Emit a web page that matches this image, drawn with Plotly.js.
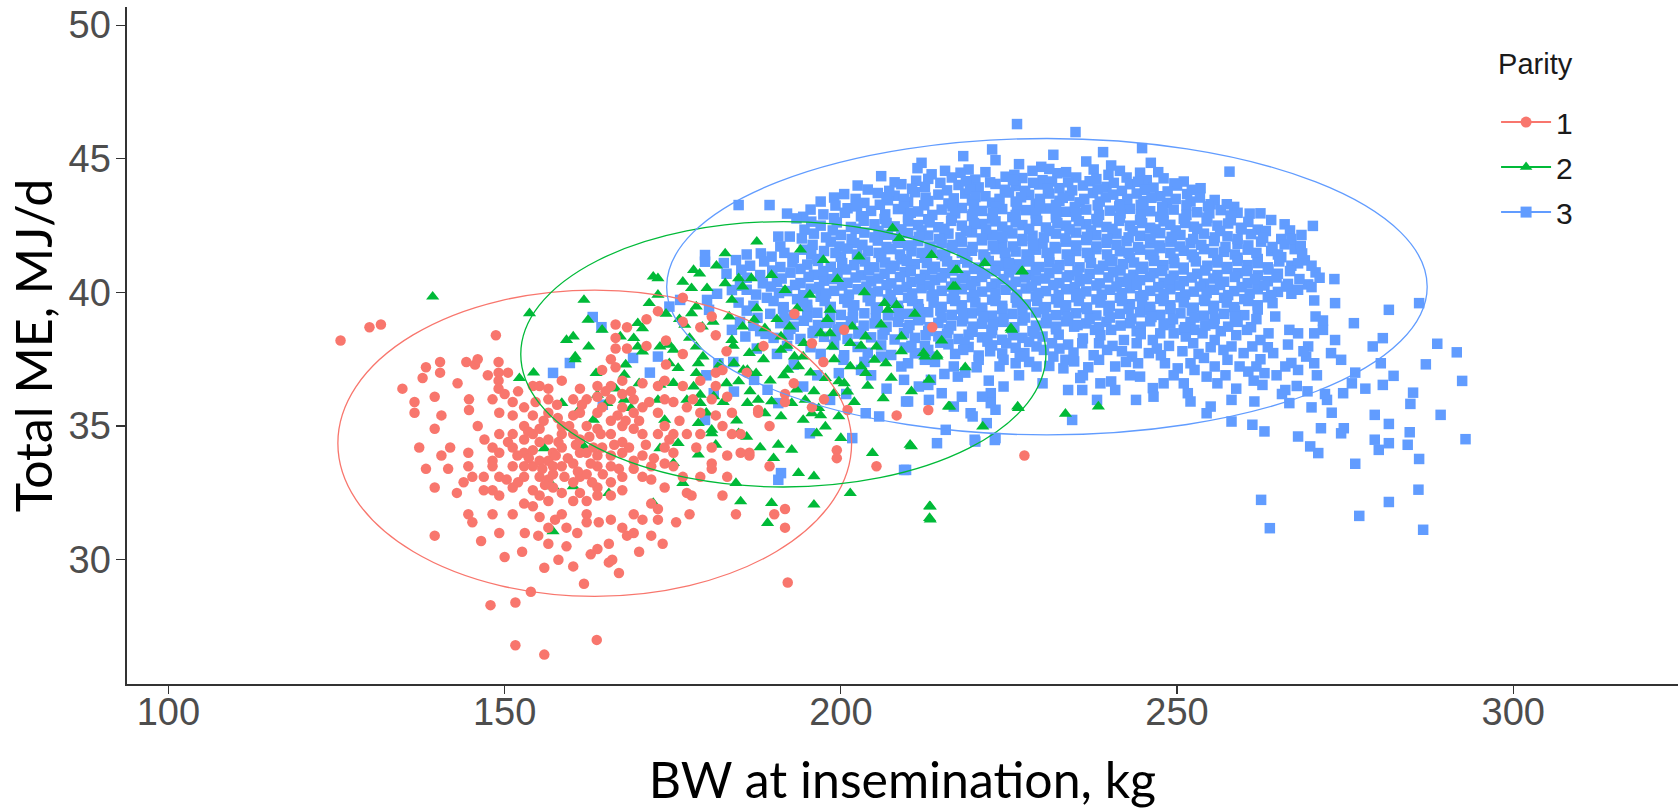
<!DOCTYPE html>
<html>
<head>
<meta charset="utf-8">
<script src="https://cdn.plot.ly/plotly-3.0.1.min.js"></script>
<style>
html,body{margin:0;padding:0;background:#fff;}
#chart{width:1678px;height:809px;}
</style>
</head>
<body>
<div id="chart"></div>
<script>
// ---------- DATA (BW at insemination kg, Total ME MJ/d) ----------
const parityNames = ["1", "2", "3"];
const parityColors = ["#F8766D", "#00BA38", "#619CFF"];
const paritySymbols = ["circle", "triangle-up", "square"];
const xTicks = [100, 150, 200, 250, 300];
const yTicks = [30, 35, 40, 45, 50];

const parity1 = [
[125.6,38.2],[129.9,38.7],[131.6,38.8],
[134.8,36.4],[136.6,35.9],[136.6,35.5],[137.8,36.8],[138.3,37.2],[139.6,36.1],[139.6,34.9],[140.4,37.4],[140.4,37.0],[137.3,34.2],[138.3,33.4],[139.6,32.7],[139.6,30.9],[140.6,35.4],[140.6,33.9],[141.9,34.2],[142.9,32.5],[141.6,33.4],[144.3,37.4],[144.7,36.0],[144.7,35.6],[145.6,37.3],[144.6,34.0],[144.6,33.5],[145.2,33.1],[143.9,32.9],[144.6,31.7],[145.2,31.4],[146.9,33.1],[146.9,32.6],
[148.2,36.0],[148.2,34.2],[148.2,33.7],[148.2,33.5],[148.2,32.6],[148.2,31.7],[149.1,37.4],[149.1,37.0],[149.1,36.7],[149.1,36.4],[149.2,35.5],[149.2,34.7],[149.2,34.0],[149.2,33.1],[149.2,32.4],[149.2,31.0],[150.0,30.1],[147.9,28.3],[151.6,28.4],
[151.2,35.9],[151.2,35.4],[151.2,34.7],[151.2,34.2],[151.2,33.5],[151.2,32.7],[151.2,31.7],[152.6,30.3],[152.9,35.7],[152.9,35.0],[152.9,34.5],[152.9,34.0],[152.9,33.5],[152.9,33.1],[152.9,32.1],
[154.2,36.5],[154.2,35.4],[154.2,34.7],[154.2,34.1],[154.2,33.5],[154.2,32.6],[154.2,32.0],[155.2,36.5],[155.2,34.9],[155.2,34.4],[155.2,33.7],[155.2,33.1],[155.2,32.4],[155.2,31.6],[155.9,29.7],[153.9,28.8],
[156.5,36.4],[156.5,36.0],[156.5,35.5],[156.5,34.5],[156.5,33.7],[156.5,33.0],[156.5,32.2],[156.5,31.2],[156.5,30.6],[157.2,34.0],[157.2,33.5],[157.2,33.2],[157.2,32.7],
[158.5,36.7],[158.5,35.0],[158.5,34.7],[158.5,34.2],[158.5,33.5],[158.5,32.5],[158.5,31.7],[159.2,31.2],[159.2,30.5],[160.2,36.0],[160.2,35.4],[160.2,34.7],[160.2,33.6],[160.2,32.9],[160.2,32.2],[160.2,29.75],
[161.2,36.4],[161.2,35.5],[161.2,34.5],[161.2,34.0],[161.2,33.1],[161.2,32.5],[161.8,29.1],[162.2,36.0],[162.2,35.0],[162.2,34.0],[162.2,33.2],[162.2,32.2],[162.2,31.7],[162.2,31.4],
[163.8,36.5],[163.8,36.1],[163.8,35.5],[163.8,34.9],[163.8,33.9],[163.8,33.5],[163.8,32.7],[163.8,32.4],[163.8,30.4],[164.5,37.1],[164.5,35.7],[164.5,34.2],[165.5,30.6],[165.5,29.9],
[165.8,37.5],[165.8,36.5],[165.8,36.0],[165.8,35.2],[165.8,34.7],[165.8,33.9],[165.8,33.5],[165.8,32.9],[165.8,32.4],[165.8,31.5],[166.5,38.8],[166.5,38.3],[166.5,37.9],[166.5,37.2],
[167.5,36.7],[167.5,36.2],[167.5,35.7],[167.5,35.0],[167.5,34.4],[167.5,34.0],[167.5,33.1],[167.5,32.6],[167.5,31.2],[168.2,38.7],[168.2,37.9],[168.2,30.9],
[169.2,36.0],[169.2,35.5],[169.2,34.9],[169.2,33.7],[169.2,33.4],[169.2,31.7],[169.2,31.0],[170.5,36.6],[170.5,35.7],[170.5,34.7],[170.5,33.9],[170.5,33.1],[170.5,31.5],[171.1,39.0],[171.1,38.0],
[171.8,33.5],[171.8,33.0],[171.8,32.1],[171.8,30.9],[172.8,39.3],[172.8,36.5],[172.8,35.5],[172.8,34.7],[172.8,31.9],[172.8,31.5],[173.8,36.7],[173.8,36.0],[173.8,35.0],[173.8,34.2],[173.8,33.6],[173.8,32.7],
[175.1,35.9],[175.1,34.7],[175.1,34.0],[175.1,33.5],[176.5,39.8],[176.5,37.7],[176.5,36.5],[176.5,33.1],[177.1,35.7],[177.1,34.7],[177.1,32.5],[177.5,31.7],[177.8,32.4],
[179.1,38.7],[179.1,36.7],[179.1,35.5],[179.1,34.7],[179.1,33.1],[180.8,39.1],[180.8,36.0],[180.8,34.2],[180.8,33.6],[180.8,33.4],[181.4,38.4],[181.4,37.0],[181.4,36.5],[181.4,35.4],
[182.4,37.1],[182.4,35.0],[182.4,32.4],[183.1,36.1],[183.1,33.9],[183.1,33.1],[183.8,35.5],[183.8,34.7],[184.4,31.7],[185.1,34.7],[185.1,34.0],[186.4,34.0],[186.4,33.9],[187.7,35.6],[187.7,35.5],
[189.4,33.5],[189.4,35.0],[190.1,31.7],[191.7,36.2],[191.7,35.9],[191.7,31.9],[191.7,31.2],[192.1,29.15],[193.1,39.2],[195.7,35.7],[195.7,38.1],[197.4,37.4],[199.4,34.1],[199.4,33.8],[201.0,35.6],[205.3,33.5],[208.3,35.4],[213.6,38.7],[213.0,35.6],[227.3,33.9],
[151.6,26.8],[155.9,26.45],[163.7,27.0],
[150.5,34.4],[150.3,33.0],[151.9,33.9],[152.0,32.9],[153.5,34.8],[153.6,33.8],[154.6,35.9],[155.8,35.2],[155.6,33.4],[156.0,32.8],[157.8,35.8],[157.9,35.3],[158.0,34.4],[157.6,33.9],[158.9,33.1],[159.4,33.8],[159.6,35.0],[160.6,34.3],[160.9,33.3],[161.5,35.8],[162.6,34.6],[162.8,33.6],[163.2,34.2],[163.0,32.9],[164.3,34.7],[164.6,33.2],[165.0,36.3],[166.3,34.3],[166.8,35.4],[167.0,33.4],[168.0,35.2],[168.5,34.2],[168.8,36.3],[170.0,35.2],[171.0,34.3],[171.5,35.9],[172.2,33.8],[174.5,34.5],[174.0,37.3],[176.0,35.2],[178.0,36.0],[178.5,34.2],
[143.0,36.6],[146.0,35.0],[147.0,34.5],[147.5,36.9],[146.5,30.7],[150.0,36.2],[150.5,37.0],[152.0,36.3],[153.0,31.0],[155.0,30.9],[157.5,31.5],[158.0,30.0],[160.8,31.0],[162.8,30.2],[164.0,31.4],[166.0,30.0],[167.0,29.5],[170.0,30.3],[173.5,30.6],[175.5,31.4],[146.0,37.5],[148.7,38.4],
[174.0,38.2],[176.5,38.9],[183.0,37.8],[186.0,37.0],[188.5,38.0],[193.0,36.6],[197.5,36.0],[200.5,38.6]
];

const parity2 = [
[139.3,39.84],[153.7,39.22],[161.8,39.72],[162.4,38.97],[160.2,38.35],[159.2,38.22],[162.5,37.97],[160.5,37.6],[160.5,37.5],[152.2,36.79],[154.3,37.0],[163.6,36.98],[163.8,36.17],[158.5,35.86],[160.9,35.55],[163.2,35.23],[165.2,35.86],[167.8,35.98],[168.8,35.67],[167.8,36.92],
[155.9,34.17],[161.8,34.24],[157.2,32.74],[160.2,32.74],[165.5,32.49],[172.1,32.12],[157.2,31.06],[172.8,40.53],[172.8,39.91],[169.8,38.85],[170.5,38.66],[167.2,38.35],[169.2,38.29],[169.8,37.97],[170.5,37.79],
[173.1,37.97],[174.5,38.04],[175.1,37.85],[174.5,37.35],[175.8,37.17],[173.1,36.54],[175.1,36.61],[172.8,35.98],[173.8,35.23],[173.1,34.17],[175.8,34.36],[175.1,33.61],[176.5,32.87],
[178.1,40.84],[177.8,40.16],[180.1,40.16],[178.5,39.47],[177.8,39.22],[176.8,38.79],[179.4,38.72],[178.5,37.97],[178.8,37.35],[178.5,36.98],[178.1,36.48],[179.1,36.17],[181.1,36.11],[179.1,35.86],[177.1,35.98],[178.8,35.11],[180.8,34.86],[180.8,34.73],[181.4,34.3],[178.8,33.93],
[182.8,41.46],[182.8,40.34],[184.8,40.53],[183.8,39.72],[185.4,40.22],[183.4,39.1],[183.8,38.22],[185.4,38.72],[187.1,38.97],[186.7,40.53],[189.7,40.65],[188.7,38.66],[186.4,37.73],[187.7,37.91],[184.1,37.35],[186.1,37.1],[187.4,36.98],[184.8,36.67],[186.1,35.86],[187.7,35.98],[184.8,34.73],[184.4,32.87],[185.1,32.18],
[189.7,35.92],[188.7,35.48],[191.1,35.36],[190.7,34.3],[192.7,34.11],[191.1,38.35],[192.4,38.72],[191.1,37.85],[193.1,37.6],[194.4,37.6],[193.7,37.23],[192.1,37.1],[193.4,36.36],[194.7,35.98],[192.7,35.86],[194.4,35.23],[195.7,35.48],[196.7,35.67],[197.7,34.98],[196.4,34.73],[200.0,34.55],[199.7,35.36],
[193.7,33.24],[196.0,33.12],[189.7,32.12],[189.1,31.37],[196.0,32.06],[201.4,32.49],[204.7,33.99],[210.3,34.3],[213.3,31.99],[213.3,31.5],
[197.0,38.47],[198.4,38.47],[198.7,37.97],[201.4,38.1],[201.4,37.23],[203.0,37.23],[197.7,36.79],[199.7,36.67],[199.0,36.23],[201.0,36.29],[206.3,36.04],[203.7,36.98],[205.0,37.48],[206.7,37.35],[201.7,38.72],[203.7,38.35],[205.3,37.97],[209.0,38.35],[212.3,37.73],[214.3,37.66],[216.0,35.73],[226.3,35.73],[225.3,38.66],
[208.7,42.03],[202.7,41.34],[197.4,41.21],[191.7,40.09],[195.4,39.91],[198.4,39.35],[208.3,39.53],[207.0,39.35],[217.0,40.22],[217.3,40.84],[226.9,40.78],[172.1,40.59],
[238.3,35.73],[233.4,35.46],[226.4,35.67],[221.1,34.98],[210.5,34.24],[213.2,32.0],[213.2,31.56],[217.1,40.84],[216.7,40.22],[225.4,38.6],[227.0,40.8],[221.4,41.1],[214.3,37.6],[212.5,37.6],[216.2,35.73],[213.1,36.73],[207.7,42.4],
[176.0,39.0],[177.5,38.3],[179.5,37.6],[181.0,38.9],[182.0,37.3],[183.0,36.6],[184.0,38.0],[185.5,37.1],[186.5,36.3],[187.5,39.4],[188.5,37.5],[189.5,36.7],[190.5,39.0],[191.5,36.9],[192.0,38.0],[193.5,39.4],[194.5,38.1],[195.5,37.0],[196.0,36.3],[197.0,35.4],[198.0,39.0],[199.0,37.5],[200.5,36.6],[202.0,35.9],[203.0,38.0],[204.0,36.5],[206.0,38.8],[207.5,36.8],[209.0,37.8],[210.5,36.3],
[180.0,35.5],[182.5,35.9],[184.5,35.2],[186.0,34.6],[188.0,34.2],[190.0,33.8],[170.0,36.6],[168.0,37.3],[166.5,36.4],[164.5,38.6],[171.5,39.6],[174.0,39.2],[176.5,40.4],[179.0,40.7],[181.5,41.0],[187.5,41.9],[194.0,41.6],[199.5,40.5],[203.5,40.0],[206.5,39.6],[211.0,39.2],[215.0,38.2],[218.5,37.2],[213.5,41.4]
];

const parity3 = [
[226.2,46.3],[234.9,46.0],[244.8,45.4],[222.5,45.35],[231.6,45.15],[239.0,45.25],[218.2,45.1],
[212.0,44.85],[223.0,44.95],[226.5,44.8],[236.5,44.9],[240.2,44.75],[246.1,44.85],[229.8,44.7],
[211.4,44.65],[215.5,44.55],[219.0,44.6],[221.5,44.5],[228.5,44.55],[231.0,44.62],[233.5,44.5],[241.5,44.55],[244.5,44.48],[257.8,44.52],[237.6,44.6],
[206.0,44.35],[213.0,44.25],[216.5,44.3],[220.0,44.22],[224.5,44.33],[227.0,44.28],[230.0,44.2],[235.0,44.3],[238.0,44.24],[242.5,44.3],[245.5,44.2],[248.0,44.27],[251.0,44.15],
[202.5,44.0],[209.0,44.05],[212.5,43.95],[217.5,44.02],[220.5,43.93],[223.0,44.06],[226.0,43.98],[229.5,44.04],[232.5,43.9],[236.0,44.0],[239.5,43.95],[243.0,44.05],[246.5,43.92],[250.0,44.0],[253.5,43.9],
[200.5,43.68],[205.5,43.72],[208.0,43.62],[211.0,43.75],[214.5,43.66],[218.5,43.7],[221.5,43.6],[225.0,43.74],[228.0,43.65],[231.0,43.7],[234.0,43.62],[237.5,43.72],[240.5,43.66],[244.0,43.7],[247.5,43.6],[251.5,43.68],[255.6,43.46],
[197.0,43.4],[203.5,43.35],[207.0,43.45],[210.0,43.38],[213.0,43.42],[216.0,43.33],[219.5,43.44],[222.5,43.36],[226.0,43.4],[229.0,43.32],[232.5,43.43],[235.5,43.37],[238.5,43.4],[241.5,43.3],[245.0,43.42],[248.5,43.35],[252.0,43.4],[255.0,43.3],[258.5,43.2],
[189.4,43.27],[195.5,43.1],[201.0,43.15],[204.5,43.05],[208.5,43.12],[211.5,43.03],[215.0,43.1],[218.0,43.16],[221.0,43.05],[224.0,43.12],[227.5,43.08],[230.5,43.14],[233.5,43.02],[236.5,43.1],[240.0,43.06],[243.0,43.13],[246.0,43.04],[249.5,43.1],[253.0,43.0],[256.5,43.08],[259.0,42.98],
[184.8,43.27],[194.4,42.83],[199.0,42.78],[203.0,42.85],[206.5,42.75],[210.0,42.82],[213.0,42.74],[216.5,42.8],[219.5,42.86],[222.5,42.76],[225.5,42.82],[229.0,42.73],[232.0,42.8],[235.0,42.84],[238.0,42.75],[241.5,42.8],[244.5,42.72],[247.5,42.83],[251.0,42.76],[254.5,42.8],[258.0,42.7],[262.4,42.96],
[193.4,42.77],[197.0,42.5],[201.5,42.45],[205.0,42.55],[208.0,42.47],[211.5,42.52],[214.5,42.44],[218.0,42.5],[221.0,42.56],[224.0,42.46],[227.0,42.52],[230.5,42.43],[233.5,42.5],[236.5,42.55],[239.5,42.45],[243.0,42.5],[246.0,42.42],[249.0,42.53],[252.5,42.46],[256.0,42.5],[259.5,42.42],[264.0,42.71],[270.2,42.49],[262.0,42.35],
[190.7,42.09],[192.4,42.09],[196.0,42.2],[200.0,42.15],[203.5,42.24],[207.0,42.16],[210.0,42.22],[213.0,42.13],[216.0,42.2],[219.5,42.25],[222.5,42.15],[225.5,42.21],[228.5,42.12],[232.0,42.2],[235.0,42.24],[238.0,42.14],[241.0,42.2],[244.5,42.12],[247.5,42.22],[250.5,42.15],[254.0,42.2],[257.5,42.1],[261.0,42.18],[268.5,42.15],[265.5,42.0],
[198.5,41.9],[202.0,41.85],[205.5,41.94],[208.5,41.86],[211.5,41.92],[215.0,41.84],[218.0,41.9],[221.0,41.95],[224.0,41.85],[227.0,41.92],[230.0,41.83],[233.5,41.9],[236.5,41.96],[239.5,41.86],[242.5,41.92],[246.0,41.84],[249.0,41.9],[252.0,41.85],[255.5,41.92],[259.0,41.82],[262.5,41.9],[266.0,41.8],
[188.1,41.46],[194.5,41.6],[197.5,41.55],[201.0,41.64],[204.0,41.56],[207.5,41.62],[210.5,41.54],[213.5,41.6],[216.5,41.66],[219.5,41.56],[223.0,41.62],[226.0,41.53],[229.0,41.6],[232.0,41.65],[235.0,41.55],[238.0,41.62],[241.5,41.54],[244.5,41.6],[247.5,41.66],[251.0,41.56],[254.0,41.62],[257.0,41.52],[260.5,41.6],[264.0,41.55],[267.5,41.62],
[179.8,41.4],[184.4,41.21],[189.7,41.34],[193.0,41.3],[196.5,41.25],[200.0,41.34],[203.0,41.26],[206.0,41.32],[209.0,41.24],[212.5,41.3],[215.5,41.36],[218.5,41.26],[221.5,41.32],[224.5,41.23],[228.0,41.3],[231.0,41.35],[234.0,41.25],[237.0,41.32],[240.0,41.24],[243.0,41.3],[246.5,41.36],[249.5,41.26],[252.5,41.32],[256.0,41.22],[259.0,41.3],[262.0,41.25],[265.5,41.32],[269.0,41.2],
[179.8,41.15],[186.5,41.0],[191.0,40.95],[195.0,41.04],[198.5,40.96],[202.0,41.02],[205.0,40.94],[208.0,41.0],[211.0,41.06],[214.0,40.96],[217.0,41.02],[220.5,40.93],[223.5,41.0],[226.5,41.05],[229.5,40.95],[232.5,41.02],[235.5,40.94],[239.0,41.0],[242.0,41.06],[245.0,40.96],[248.0,41.02],[251.0,40.93],[254.5,41.0],[257.5,40.95],[260.5,41.02],[263.5,40.94],[267.0,41.0],[268.0,41.09],
[183.0,40.7],[188.0,40.65],[192.5,40.74],[196.0,40.66],[199.5,40.72],[203.0,40.64],[206.5,40.7],[209.5,40.76],[212.5,40.66],[215.5,40.72],[218.5,40.63],[221.5,40.7],[225.0,40.75],[228.0,40.65],[231.0,40.72],[234.0,40.64],[237.0,40.7],[240.5,40.76],[243.5,40.66],[246.5,40.72],[249.5,40.63],[253.0,40.7],[256.0,40.65],[259.0,40.72],[262.0,40.64],[265.0,40.7],[273.4,40.5],
[188.4,40.34],[190.5,40.4],[194.0,40.35],[197.5,40.44],[201.0,40.36],[204.5,40.42],[207.5,40.34],[210.5,40.4],[214.0,40.46],[217.0,40.36],[220.0,40.42],[223.0,40.33],[226.0,40.4],[229.0,40.45],[232.5,40.35],[235.5,40.42],[238.5,40.34],[241.5,40.4],[244.5,40.46],[248.0,40.36],[251.0,40.42],[254.0,40.33],[257.0,40.4],[260.5,40.35],[263.5,40.42],[266.5,40.32],
[183.8,40.09],[186.0,40.1],[192.0,40.05],[195.5,40.14],[199.0,40.06],[202.5,40.12],[205.5,40.04],[208.5,40.1],[212.0,40.16],[215.0,40.06],[218.0,40.12],[221.0,40.03],[224.5,40.1],[227.5,40.15],[230.5,40.05],[233.5,40.12],[236.5,40.04],[240.0,40.1],[243.0,40.16],[246.0,40.06],[249.0,40.12],[252.5,40.03],[255.5,40.1],[258.5,40.05],[262.0,40.12],[265.0,40.02],[268.0,40.1],
[176.1,39.72],[180.1,39.72],[189.0,39.8],[193.5,39.75],[197.0,39.84],[200.5,39.76],[204.0,39.82],[207.0,39.74],[210.0,39.8],[213.5,39.86],[216.5,39.76],[219.5,39.82],[222.5,39.73],[226.0,39.8],[229.0,39.85],[232.0,39.75],[235.0,39.82],[238.0,39.74],[241.5,39.8],[244.5,39.86],[247.5,39.76],[250.5,39.82],[254.0,39.73],[257.0,39.8],[260.0,39.75],[263.5,39.82],
[174.5,39.47],[187.0,39.5],[191.5,39.45],[195.0,39.54],[198.5,39.46],[202.0,39.52],[205.5,39.44],[208.5,39.5],[211.5,39.56],[215.0,39.46],[218.0,39.52],[221.0,39.43],[224.0,39.5],[227.5,39.55],[230.5,39.45],[233.5,39.52],[236.5,39.44],[240.0,39.5],[243.0,39.56],[246.0,39.46],[249.0,39.52],[252.5,39.43],[255.5,39.5],[258.5,39.45],[262.0,39.52],[273.5,39.6],
[163.1,39.08],[180.4,39.35],[189.5,39.2],[193.0,39.15],[196.5,39.24],[200.0,39.16],[203.5,39.22],[207.0,39.14],[210.0,39.2],[213.0,39.26],[216.5,39.16],[219.5,39.22],[222.5,39.13],[225.5,39.2],[229.0,39.25],[232.0,39.15],[235.0,39.22],[238.0,39.14],[241.5,39.2],[244.5,39.26],[247.5,39.16],[250.5,39.22],[254.0,39.13],[257.0,39.2],[260.0,39.15],[264.6,39.1],[281.5,39.35],
[164.4,38.7],[185.0,38.9],[191.0,38.85],[194.5,38.94],[198.0,38.86],[201.5,38.92],[205.0,38.84],[208.5,38.9],[211.5,38.96],[214.5,38.86],[218.0,38.92],[221.0,38.83],[224.0,38.9],[227.0,38.95],[230.5,38.85],[233.5,38.92],[236.5,38.84],[239.5,38.9],[243.0,38.85],[246.0,38.92],[249.0,38.84],[252.0,38.9],[255.5,38.82],[259.0,38.9],[276.3,38.85],
[183.8,38.6],[188.0,38.55],[192.5,38.64],[196.0,38.56],[199.5,38.62],[203.0,38.54],[206.5,38.6],[210.0,38.66],[213.0,38.56],[216.0,38.62],[219.5,38.53],[222.5,38.6],[225.5,38.65],[228.5,38.55],[232.0,38.62],[234.7,38.72],[237.8,38.6],[240.2,38.6],[244.0,38.55],[247.5,38.47],[251.0,38.6],[252.6,38.6],[256.5,38.55],[266.7,38.6],[271.7,38.6],[286.0,39.6],
[185.8,38.35],[190.0,38.3],[194.0,38.26],[197.5,38.34],[201.0,38.26],[204.5,38.32],[208.0,38.24],[211.0,38.3],[214.5,38.36],[217.5,38.26],[221.0,38.32],[224.0,38.23],[227.0,38.3],[230.0,38.35],[236.0,38.28],[242.1,38.22],[246.4,38.22],[249.5,38.47],[251.3,38.35],[253.8,38.47],[255.6,38.22],[262.4,38.22],[263.6,38.47],[268.0,38.47],[270.4,38.47],[273.5,38.22],[280.6,38.29],
[192.0,38.0],[195.5,37.95],[199.0,38.04],[202.5,37.96],[206.0,38.02],[209.5,37.94],[212.5,38.0],[216.0,38.06],[219.0,37.96],[222.5,38.02],[226.0,37.93],[229.1,37.98],[235.9,38.1],[238.4,38.1],[258.1,37.98],[261.2,37.98],[269.5,37.98],[279.1,37.98],[288.7,38.08],[256.9,37.85],
[169.1,37.55],[172.8,37.6],[197.0,37.7],[200.5,37.65],[204.0,37.74],[207.5,37.66],[211.0,37.72],[213.6,37.6],[217.0,37.7],[220.5,37.64],[224.0,37.72],[227.3,37.73],[231.6,37.6],[239.6,37.85],[243.3,37.6],[245.8,37.73],[259.9,37.73],[264.3,37.73],[272.9,37.73],[291.6,37.76],
[159.7,37.36],[181.8,37.35],[200.4,37.48],[203.5,37.4],[209.0,37.23],[212.5,37.48],[216.8,37.23],[220.5,37.48],[224.2,37.48],[226.0,37.35],[233.4,37.48],[234.7,37.42],[238.4,37.48],[244.2,37.35],[248.2,37.35],[252.0,37.35],[255.6,37.23],[257.5,37.48],[261.8,37.23],[266.1,37.23],[267.0,37.36],[270.4,37.35],[274.4,37.48],[280.3,37.35],[287.0,37.31],
[157.2,36.99],[171.6,37.0],[199.7,36.98],[210.0,37.35],[223.6,37.23],[229.1,37.23],[233.1,37.16],[240.8,37.23],[250.1,37.16],[252.6,37.1],[254.4,36.85],[259.3,37.23],[260.6,37.04],[263.0,36.98],[268.0,37.1],[269.2,37.6],
[187.1,36.73],[209.4,36.73],[213.4,36.73],[217.4,36.85],[240.2,36.67],[244.5,36.85],[282.2,36.88],
[181.1,36.23],[194.4,36.48],[189.1,36.36],[211.6,36.48],[213.0,36.54],[224.2,36.48],[246.4,36.42],[262.7,36.54],[276.0,36.6],[280.6,36.54],[292.4,36.69],
[184.1,36.29],[215.0,36.23],[218.0,36.1],[222.3,36.23],[233.8,36.35],[235.9,36.35],[240.8,36.35],[251.6,36.23],[266.1,36.35],[274.7,36.23],[285.1,36.25],
[190.7,35.86],[198.4,35.98],[209.7,35.92],[213.1,35.98],[210.0,35.92],[222.3,35.86],[221.0,36.1],[238.1,35.98],[243.9,35.98],[252.0,35.92],[258.1,35.98],[261.5,35.92],[266.7,35.86],[272.3,35.98],[284.7,35.83],
[164.6,35.8],[216.8,35.73],[223.0,35.61],[255.0,35.73],[270.0,35.7],[273.0,35.5],
[203.7,35.48],[205.7,35.36],[219.3,35.48],[219.6,35.36],[254.4,35.48],[234.4,35.23],[279.4,35.42],[289.2,35.42],
[179.8,35.23],[221.7,35.11],[258.1,35.17],[261.2,35.05],
[263.0,34.8],[281.5,35.08],[271.4,34.92],[274.8,34.92],
[215.6,34.86],[195.4,34.73],[284.6,34.77],
[201.7,34.55],[268.0,34.61],[274.4,34.73],[223.0,34.55],
[214.3,34.36],[219.9,34.49],[220.0,34.42],[222.9,34.48],[279.4,34.49],[281.5,34.36],[292.9,34.51],[284.3,34.3],
[269.8,34.24],[280.0,34.11],[271.0,33.99],[286.0,33.77],[276.5,33.59],[209.4,33.36],[209.7,33.36],[191.1,33.24],[190.7,32.99],[285.9,32.62],[262.5,32.24],[281.5,32.16],[277.1,31.64],[263.8,31.18],[286.6,31.12],
[210.5,38.0],[214.0,37.4],[218.5,37.0],[222.0,36.7],[226.5,36.9],[230.0,36.6],[232.5,37.9],[236.8,37.2],[241.8,37.8],[247.0,37.9],[249.5,36.9],[253.2,37.7],[256.0,36.6],[258.8,36.4],[264.8,36.9],[267.8,36.5],[270.8,36.9],[272.0,36.2],[276.5,37.0],[278.0,36.4],[246.5,36.1],[236.0,36.9],[228.0,37.4],[204.5,36.9],[206.8,36.4],[200.8,36.2],[196.5,36.9],[193.0,37.3],[190.5,37.7],[187.5,37.9],[184.0,37.4],[180.0,36.9],
[270.4,39.7],[270.6,39.1],[271.7,38.95],[269.5,40.3],
[213.5,44.42],[217.8,44.48],[225.8,44.4],[232.2,44.46],[239.8,44.4],[247.2,44.5],
[208.0,44.12],[211.2,44.18],[214.8,44.1],[218.6,44.16],[222.2,44.12],[225.6,44.2],[228.6,44.1],[231.4,44.15],[233.8,44.12],[237.0,44.16],[240.6,44.1],[244.2,44.14],[249.6,44.08],
[204.0,43.85],[207.2,43.8],[210.6,43.88],[215.8,43.82],[219.2,43.86],[224.4,43.84],[227.4,43.8],[230.8,43.88],[234.4,43.82],[238.2,43.86],[241.8,43.8],[245.2,43.84],[248.6,43.78],[252.2,43.84],
[199.0,43.55],[202.2,43.5],[206.8,43.56],[209.4,43.5],[212.6,43.55],[216.8,43.52],[220.0,43.57],[223.6,43.5],[226.8,43.56],[229.6,43.5],[233.0,43.54],[236.2,43.5],[239.4,43.56],[242.6,43.5],[246.2,43.54],[249.8,43.5],[253.4,43.55],
[199.2,43.25],[202.4,43.22],[205.8,43.28],[209.4,43.2],[212.4,43.26],[216.6,43.22],[219.8,43.28],[223.0,43.2],[226.2,43.26],[229.6,43.22],[232.0,43.28],[234.8,43.2],[238.2,43.26],[241.4,43.22],[244.6,43.28],[247.8,43.2],[251.4,43.26],[254.6,43.22],[257.4,43.3],
[192.0,42.95],[197.4,42.92],[200.6,42.98],[206.6,42.92],[210.4,42.98],[213.6,42.9],[217.0,42.96],[219.6,42.92],[222.6,42.98],[226.0,42.9],[229.0,42.96],[232.0,42.92],[235.0,42.98],[238.4,42.9],[241.6,42.96],[244.6,42.9],[248.0,42.96],[251.4,42.9],[254.8,42.96],[258.0,42.88],[260.8,42.95],
[195.6,42.65],[199.4,42.62],[203.4,42.68],[206.8,42.6],[210.0,42.66],[213.2,42.62],[216.4,42.68],[219.8,42.6],[223.0,42.66],[226.0,42.62],[229.2,42.68],[232.2,42.6],[235.4,42.66],[238.2,42.62],[241.4,42.68],[244.8,42.6],[248.0,42.66],[251.2,42.6],[254.4,42.66],[257.6,42.58],[260.6,42.64],[266.0,42.55],
[194.6,42.35],[198.8,42.32],[202.2,42.38],[205.6,42.3],[209.0,42.36],[212.0,42.32],[215.4,42.38],[218.6,42.3],[221.6,42.36],[224.8,42.32],[228.0,42.38],[231.0,42.3],[234.0,42.36],[237.2,42.32],[240.4,42.38],[243.4,42.3],[246.8,42.36],[249.8,42.32],[253.0,42.38],[256.4,42.3],[259.6,42.36],[263.2,42.3],[266.8,42.32],
[194.2,42.02],[197.8,42.06],[201.6,42.0],[205.0,42.06],[208.4,42.02],[211.6,42.08],[214.6,42.0],[217.8,42.06],[221.0,42.02],[224.0,42.08],[227.0,42.0],[230.2,42.06],[233.4,42.02],[236.6,42.08],[239.6,42.0],[242.8,42.06],[246.0,42.02],[249.2,42.08],[252.4,42.0],[255.6,42.06],[259.0,42.0],[262.8,42.04],[267.0,42.0],
[191.0,41.72],[195.8,41.78],[199.8,41.72],[203.2,41.78],[206.8,41.7],[210.0,41.76],[213.2,41.72],[216.6,41.78],[219.6,41.7],[222.6,41.76],[225.6,41.72],[228.6,41.78],[231.8,41.7],[235.0,41.76],[238.0,41.72],[241.0,41.78],[244.2,41.7],[247.4,41.76],[250.4,41.72],[253.6,41.78],[257.2,41.7],[260.6,41.76],[264.2,41.7],[268.4,41.74],
[186.0,41.42],[191.6,41.48],[195.6,41.42],[199.2,41.48],[202.4,41.42],[205.6,41.48],[208.8,41.42],[212.0,41.48],[215.0,41.42],[218.0,41.48],[221.2,41.42],[224.4,41.48],[227.6,41.42],[230.6,41.48],[233.6,41.42],[236.6,41.48],[239.6,41.42],[242.8,41.48],[246.0,41.42],[249.0,41.48],[252.2,41.42],[255.4,41.48],[258.6,41.42],[261.8,41.48],[265.0,41.42],[268.6,41.46],
[182.6,41.1],[188.6,41.16],[192.8,41.12],[196.6,41.18],[200.2,41.1],[203.6,41.16],[206.6,41.12],[209.8,41.18],[212.8,41.1],[215.8,41.16],[218.8,41.12],[222.0,41.18],[225.0,41.1],[228.0,41.16],[231.0,41.12],[234.0,41.18],[237.2,41.1],[240.4,41.16],[243.6,41.12],[246.6,41.18],[249.6,41.1],[252.8,41.16],[256.0,41.12],[259.0,41.18],[262.0,41.1],[265.2,41.16],[270.0,41.0],
[185.2,40.85],[189.8,40.82],[194.0,40.88],[197.4,40.8],[200.8,40.86],[204.2,40.82],[207.4,40.88],[210.4,40.8],[213.6,40.86],[216.6,40.82],[219.8,40.88],[223.0,40.8],[226.0,40.86],[229.0,40.82],[232.2,40.88],[235.2,40.8],[238.4,40.86],[241.6,40.82],[244.6,40.88],[247.8,40.8],[251.0,40.86],[254.2,40.82],[257.4,40.88],[260.4,40.8],[263.6,40.86],[266.8,40.8],[270.6,40.75],
[186.0,40.55],[191.2,40.52],[195.2,40.58],[198.8,40.5],[202.2,40.56],[205.6,40.52],[208.8,40.58],[211.8,40.5],[215.0,40.56],[218.0,40.52],[221.0,40.58],[224.2,40.5],[227.4,40.56],[230.4,40.52],[233.6,40.58],[236.6,40.5],[239.8,40.56],[242.8,40.52],[246.0,40.58],[249.0,40.5],[252.2,40.56],[255.4,40.52],[258.6,40.58],[261.6,40.5],[264.8,40.56],[268.2,40.5],[271.2,40.55],
[185.0,40.25],[189.6,40.22],[193.2,40.28],[196.8,40.2],[200.2,40.26],[203.8,40.22],[206.8,40.28],[209.8,40.2],[213.2,40.26],[216.4,40.22],[219.4,40.28],[222.4,40.2],[225.4,40.26],[228.4,40.22],[231.6,40.28],[234.8,40.2],[238.0,40.26],[241.0,40.22],[244.0,40.28],[247.2,40.2],[250.4,40.26],[253.4,40.22],[256.4,40.28],[259.6,40.2],[263.0,40.26],[266.2,40.22],[270.0,40.2],
[181.6,39.95],[187.4,39.92],[190.8,39.98],[194.4,39.9],[197.8,39.96],[201.2,39.92],[204.4,39.98],[207.4,39.9],[210.6,39.96],[213.8,39.92],[216.8,39.98],[219.8,39.9],[223.0,39.96],[226.2,39.92],[229.4,39.98],[232.4,39.9],[235.6,39.96],[238.8,39.92],[241.8,39.98],[245.0,39.9],[248.0,39.96],[251.2,39.92],[254.4,39.98],[257.6,39.9],[260.8,39.96],[264.0,39.9],[267.0,39.95],
[184.8,39.62],[190.0,39.68],[194.2,39.62],[197.6,39.68],[201.0,39.62],[204.4,39.68],[207.6,39.62],[210.6,39.68],[213.8,39.62],[217.0,39.68],[220.0,39.62],[223.0,39.68],[226.2,39.62],[229.2,39.68],[232.4,39.62],[235.4,39.68],[238.6,39.62],[241.8,39.68],[244.8,39.62],[248.0,39.68],[251.0,39.62],[254.2,39.68],[257.4,39.62],[260.6,39.68],[264.2,39.6],
[186.0,39.32],[191.4,39.38],[195.0,39.32],[198.4,39.38],[201.8,39.32],[205.2,39.38],[208.6,39.32],[211.6,39.38],[214.8,39.32],[218.0,39.38],[221.0,39.32],[224.0,39.38],[227.0,39.32],[230.2,39.38],[233.4,39.32],[236.6,39.38],[239.8,39.32],[242.8,39.38],[246.0,39.32],[249.0,39.38],[252.2,39.32],[255.4,39.38],[258.6,39.32],[262.0,39.36],
[187.6,39.05],[191.6,39.02],[195.0,39.08],[198.4,39.0],[201.8,39.06],[205.2,39.02],[208.6,39.08],[211.8,39.0],[215.0,39.06],[218.2,39.02],[221.2,39.08],[224.2,39.0],[227.4,39.06],[230.6,39.02],[233.8,39.08],[237.0,39.0],[240.0,39.06],[243.2,39.02],[246.2,39.08],[249.4,39.0],[252.6,39.06],[255.6,39.02],[258.6,39.08],[261.8,39.0],
[187.0,38.75],[193.0,38.72],[196.6,38.78],[200.0,38.7],[203.4,38.76],[206.8,38.72],[210.2,38.78],[213.2,38.7],[216.4,38.76],[219.6,38.72],[222.6,38.78],[225.8,38.7],[229.0,38.76],[232.0,38.72],[235.2,38.78],[238.4,38.7],[241.6,38.76],[244.6,38.72],[248.0,38.78],[251.2,38.7],[254.2,38.76],[257.6,38.72],[261.0,38.7],
[188.8,38.45],[192.2,38.42],[195.8,38.48],[199.2,38.4],[202.6,38.46],[206.2,38.42],[209.4,38.48],[212.6,38.4],[215.8,38.46],[219.0,38.42],[222.4,38.48],[225.6,38.4],[228.8,38.46],[232.4,38.42],[238.6,38.4],[244.6,38.44],[258.8,38.4],[260.4,38.6],
[214.8,38.12],[218.4,38.14],[221.8,38.16],[224.6,38.1],[228.0,38.15],[231.4,38.1],[233.8,38.05],[240.4,38.0],[244.0,38.1],[248.8,38.0],[252.4,38.1],[255.0,37.95],[263.5,37.95],[266.5,38.05],[213.0,37.85],[218.2,37.85],[222.2,37.8],[226.6,37.6],[230.2,37.85],[234.6,37.75],[237.6,37.65],[242.4,37.4],[247.6,37.65],[250.8,37.8],[254.0,37.55],[262.4,37.5],[268.8,37.8],[203.0,37.1],[206.0,37.6],[215.4,36.95],[220.2,37.2],[231.0,37.25],[235.6,36.8],[238.6,36.6],[243.0,36.9],[248.0,36.6],[251.0,36.6],[257.2,36.9],[261.4,36.7],[265.6,36.2],[269.4,36.3]
];

// Confidence ellipses: [xmin, xmax, ymin, ymax]
const ellipse1 = [125.2, 201.6, 28.63, 40.09];
const ellipse2 = [152.4, 230.5, 32.72, 42.65];
const ellipse3 = [174.1, 287.2, 34.67, 45.76];

// ---------- BUILD ----------
const series = [parity1, parity2, parity3];
const ellipses = [ellipse1, ellipse2, ellipse3];
const markerSizes = [10.5, 11.5, 10.5];
const drawOrder = [2, 1, 0];
const traces = [];
drawOrder.forEach(i => {
  traces.push({
    type: 'scatter', mode: 'markers', showlegend: false, hoverinfo: 'skip',
    x: series[i].map(p => p[0]), y: series[i].map(p => p[1]),
    marker: {symbol: paritySymbols[i], color: parityColors[i], size: markerSizes[i], line: {width: 0}}
  });
});
[0, 1, 2].forEach(i => {
  traces.push({
    type: 'scatter', mode: 'lines+markers', name: parityNames[i], legendgroup: 'g' + i,
    x: [null], y: [null],
    line: {color: parityColors[i], width: 2},
    marker: {symbol: paritySymbols[i], color: parityColors[i], size: 11}
  });
});

const shapes = ellipses.map((e, i) => ({
  type: 'circle', xref: 'x', yref: 'y', layer: 'above',
  x0: e[0], x1: e[1], y0: e[2], y1: e[3],
  line: {color: parityColors[i], width: 1.3}
}));

const tickFont = {family: 'Liberation Sans, Arial, sans-serif', size: 38, color: '#4D4D4D'};
const titleFont = {family: 'Lato, Carlito, sans-serif', size: 50, color: '#000000'};
const layout = {
  width: 1678, height: 809,
  paper_bgcolor: '#ffffff', plot_bgcolor: '#ffffff',
  margin: {l: 127, r: 0, t: 7, b: 125, pad: 0},
  showlegend: true,
  xaxis: {
    range: [93.84, 324.5], tickvals: xTicks, ticktext: xTicks.map(String),
    showgrid: false, zeroline: false, showline: true, linecolor: '#333333', linewidth: 1.6,
    ticks: 'outside', ticklen: 8, tickwidth: 1.3, tickcolor: '#333333',
    tickfont: tickFont, ticklabelstandoff: -14,
    title: {text: 'BW at insemination, kg', font: titleFont, standoff: 45},
    automargin: false
  },
  yaxis: {
    range: [25.35, 50.68], tickvals: yTicks, ticktext: yTicks.map(String),
    showgrid: false, zeroline: false, showline: true, linecolor: '#333333', linewidth: 1.6,
    ticks: 'outside', ticklen: 9, tickwidth: 1.3, tickcolor: '#333333',
    tickfont: tickFont, ticklabelstandoff: -2,
    title: {text: 'Total ME, MJ/d', font: titleFont, standoff: 0},
    automargin: false
  },
  shapes: shapes,
  legend: {
    x: 0.8827, y: 0.9337, xanchor: 'left', yanchor: 'top',
    bgcolor: 'rgba(0,0,0,0)', borderwidth: 0,
    font: {family: 'Liberation Sans, Arial, sans-serif', size: 30, color: '#1a1a1a'},
    title: {text: '<span style="font-size:29px">Parity</span><br>&nbsp;', side: 'top', font: {family: 'Liberation Sans, Arial, sans-serif', size: 17, color: '#1a1a1a'}},
    traceorder: 'grouped', itemwidth: 50, tracegroupgap: 3
  }
};

Plotly.newPlot('chart', traces, layout, {displayModeBar: false, staticPlot: true});
</script>
</body>
</html>
